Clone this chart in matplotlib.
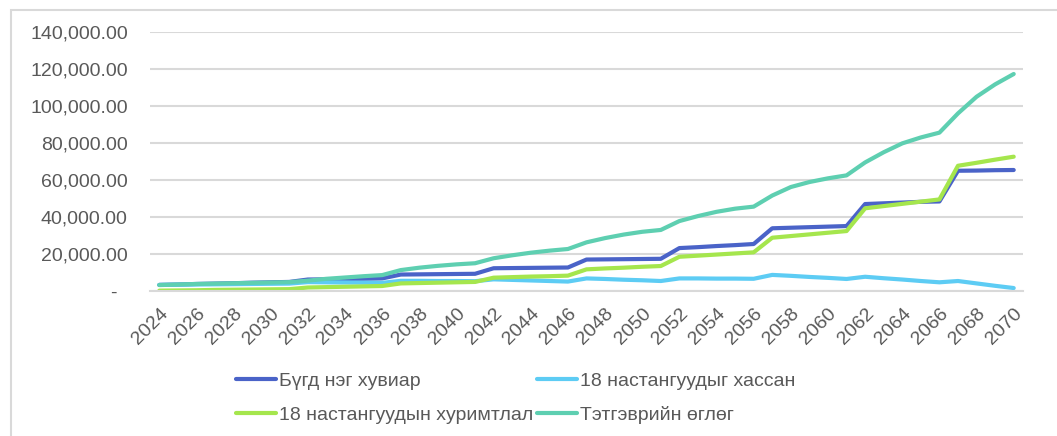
import matplotlib
matplotlib.use('Agg')
import matplotlib.pyplot as plt
from matplotlib.patches import Rectangle
from matplotlib.ticker import FuncFormatter

plt.rcParams['font.family'] = ['Liberation Sans', 'DejaVu Sans']

years = list(range(2024, 2071))

# Бүгд нэг хувиар
bugd = [3.3, 3.5, 3.8, 4.0, 4.2, 4.5, 4.7, 4.9,
        6.2, 6.3, 6.5, 6.6, 6.8,
        8.9, 9.0, 9.1, 9.2, 9.3,
        12.3, 12.4, 12.5, 12.6, 12.7,
        17.0, 17.1, 17.2, 17.3, 17.4,
        23.2, 23.7, 24.3, 24.8, 25.4,
        33.9, 34.2, 34.5, 34.8, 35.1,
        47.0, 47.4, 47.8, 48.2, 48.4,
        65.0, 65.1, 65.3, 65.4]

# 18 настангуудыг хассан
hassan = [3.3, 3.4, 3.5, 3.6, 3.7, 3.8, 3.9, 4.0,
          4.8, 4.7, 4.6, 4.5, 4.4,
          5.5, 5.5, 5.4, 5.4, 5.3,
          6.3, 6.0, 5.7, 5.4, 5.1,
          6.8, 6.5, 6.1, 5.8, 5.4,
          6.8, 6.8, 6.7, 6.7, 6.6,
          8.7, 8.2, 7.6, 7.1, 6.5,
          7.7, 6.9, 6.2, 5.4, 4.7,
          5.4, 4.1, 2.8, 1.6]

# 18 настангуудын хуримтлал
hurimtlal = [0.2, 0.3, 0.4, 0.6, 0.7, 0.8, 0.9, 1.0,
             1.9, 2.1, 2.3, 2.5, 2.7,
             4.1, 4.3, 4.5, 4.7, 4.9,
             7.2, 7.5, 7.8, 8.0, 8.3,
             11.7, 12.2, 12.6, 13.1, 13.5,
             18.5, 19.1, 19.7, 20.3, 20.9,
             28.8, 29.7, 30.6, 31.5, 32.4,
             44.7, 45.9, 47.1, 48.3, 49.5,
             67.7, 69.3, 71.0, 72.6]

# Тэтгэврийн өглөг
oglog = [3.2, 3.5, 3.8, 4.0, 4.2, 4.4, 4.6, 4.8,
         5.6, 6.6, 7.3, 8.0, 8.6,
         11.3, 12.6, 13.6, 14.4, 15.0,
         17.7, 19.3, 20.7, 21.8, 22.7,
         26.3, 28.6, 30.5, 32.0, 33.0,
         37.8, 40.5, 42.8, 44.5, 45.6,
         51.6, 56.2, 58.9, 60.9, 62.5,
         69.5, 75.0, 79.8, 83.0, 85.6,
         96.0, 105.0, 111.7, 117.3]

labels = ['Бүгд нэг хувиар', '18 настангуудыг хассан',
          '18 настангуудын хуримтлал', 'Тэтгэврийн өглөг']
colors = ['#4A63C8', '#5DCCF4', '#A5E64D', '#5ECFB1']
series = [bugd, hassan, hurimtlal, oglog]

fig = plt.figure(figsize=(10.57, 4.36), dpi=100)
# light outer border of the chart area
fig.patches.append(Rectangle((11 / 1057, -0.1), 1.2, 1.1 - 10 / 436,
                             transform=fig.transFigure, fill=False,
                             edgecolor='#D9D9D9', linewidth=1.5))

ax = fig.add_axes([150 / 1057, (436 - 291) / 436, 873 / 1057, 259 / 436])
x = list(range(len(years)))
handles = []
for vals, lab, col in zip(series, labels, colors):
    h, = ax.plot(x, [v * 1000 for v in vals], color=col, linewidth=3,
                 solid_capstyle='round', label=lab)
    handles.append(h)

ax.set_xlim(-0.5, len(years) - 0.5)
ax.set_ylim(0, 140000)
ax.set_yticks(range(0, 140001, 20000))
ax.yaxis.set_major_formatter(FuncFormatter(
    lambda v, p: '-  ' if v == 0 else '{:,.2f}'.format(v)))
ax.set_xticks(x[::2])
ax.set_xticklabels([str(y) for y in years[::2]], rotation=45, ha='right',
                   rotation_mode='anchor')
ax.tick_params(axis='both', length=0, labelsize=14, labelcolor='#595959')
ax.tick_params(axis='y', pad=16)
ax.tick_params(axis='x', pad=10)
ax.grid(axis='y', color='#D9D9D9', linewidth=1.5)
ax.set_axisbelow(True)
for s in ['top', 'right', 'left']:
    ax.spines[s].set_visible(False)
ax.spines['bottom'].set_color('#D9D9D9')
ax.spines['bottom'].set_linewidth(1.5)

order = [0, 2, 1, 3]
fig.legend([handles[i] for i in order], [labels[i] for i in order],
           ncol=2, loc='center', bbox_to_anchor=(516 / 1057, (436 - 398) / 436),
           frameon=False, fontsize=14, labelcolor='#595959',
           handlelength=2.05, handletextpad=0.15, columnspacing=0.2,
           labelspacing=0.85)

fig.savefig('out.png', dpi=100)
